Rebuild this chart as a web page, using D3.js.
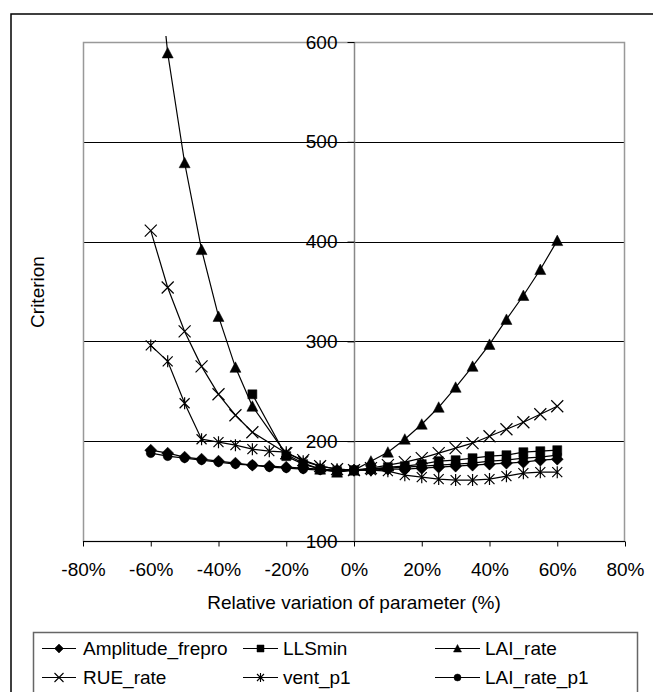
<!DOCTYPE html>
<html><head><meta charset="utf-8">
<script src="https://cdn.jsdelivr.net/npm/d3@7"></script>
<style>
html,body{margin:0;padding:0;background:#fff;}
svg{display:block;font-family:"Liberation Sans",Arial,sans-serif;}
</style></head>
<body>
<svg id="chart" width="653" height="692"></svg>
<script>
// ---- data ----
const pcts = [-0.60,-0.55,-0.50,-0.45,-0.40,-0.35,-0.30,-0.25,-0.20,-0.15,-0.10,-0.05,0,0.05,0.10,0.15,0.20,0.25,0.30,0.35,0.40,0.45,0.50,0.55,0.60];
const amplitudeFrepro = [191,188,184,182,180,178,176,175,174,173,172,171,171,171,172,172,173,174,175,176,177,178,179,181,182];
const llsMin          = [null,null,null,null,null,null,247,null,185,177,172,170,171,172,174,175,177,180,181,183,185,186,189,190,191];
const laiRate         = [755,589,479,392,325,274,235,null,187,178,172,169,171,180,189,202,217,234,254,275,297,322,346,372,401];
const rueRate         = [411,354,310,275,247,226,209,null,188,181,175,172,171,173,176,179,183,188,193,198,205,212,219,227,235];
const ventP1          = [296,280,238,202,199,196,192,190,189,180,175,172,171,171,170,166,164,162,161,161,162,165,168,169,169];
const laiRateP1       = [188,185,183,181,179,177,176,174,173,172,171,170,171,172,173,174,175,176,177,178,180,181,183,184,186];
const seriesNames = ["Amplitude_frepro","LLSmin","LAI_rate","RUE_rate","vent_p1","LAI_rate_p1"];
const seriesValues = [amplitudeFrepro, llsMin, laiRate, rueRate, ventP1, laiRateP1];
const seriesMarkers = ["diamond","square","triangle","x","asterisk","circle"];
const xTicks = [-0.8,-0.6,-0.4,-0.2,0,0.2,0.4,0.6,0.8];
const yTicks = [100,200,300,400,500,600];

// ---- layout ----
const svg = d3.select("#chart");
const L = 83, R = 625, T = 42, B = 541;
const x = d3.scaleLinear().domain([-0.8,0.8]).range([L,R]);
const y = d3.scaleLinear().domain([100,600]).range([B,T]);
const FS = 19;

// outer chart border
svg.append("rect").attr("x",11).attr("y",14).attr("width",700).attr("height",700)
  .attr("fill","#fff").attr("stroke","#000").attr("stroke-width",1.5);

// gridlines
svg.append("g").selectAll("line").data(yTicks.filter(d=>d>100)).join("line")
  .attr("x1",L).attr("x2",R)
  .attr("y1",d=>Math.round(y(d))+0.5).attr("y2",d=>Math.round(y(d))+0.5)
  .attr("stroke","#000").attr("stroke-width",1);

// plot area border (gray)
svg.append("rect").attr("x",L+0.5).attr("y",T+0.5).attr("width",R-L-1).attr("height",B-T)
  .attr("fill","none").attr("stroke","#999").attr("stroke-width",1.5);

// x axis at y=100
const xAxis = d3.axisBottom(x).tickValues(xTicks).tickSize(5).tickPadding(16)
  .tickFormat(d3.format(".0%"));
const gx = svg.append("g").attr("transform",`translate(0,${Math.round(y(100))+0.5})`).call(xAxis);
gx.select(".domain").attr("stroke","#000").attr("d",`M${L},0H${R}`);
gx.selectAll(".tick line").attr("stroke","#000");
gx.selectAll(".tick text").attr("font-size",FS).attr("fill","#000")
  .attr("font-family","Liberation Sans, Arial, sans-serif")
  .text(d=>d3.format(".0%")(d).replace("−","-"));

// y axis at x=0
const yAxis = d3.axisLeft(y).tickValues(yTicks).tickSize(7).tickPadding(10);
const gy = svg.append("g").attr("transform",`translate(${Math.round(x(0))+0.5},0)`).call(yAxis);
gy.select(".domain").attr("stroke","#888").attr("stroke-width",1.5).attr("d",`M0,${T}V${B}`);
gy.selectAll(".tick line").attr("stroke","#000");
gy.selectAll(".tick text").attr("font-size",FS).attr("fill","#000")
  .attr("font-family","Liberation Sans, Arial, sans-serif");

// axis titles
svg.append("text").attr("x",x(0)).attr("y",609).attr("text-anchor","middle")
  .attr("font-size",FS).text("Relative variation of parameter (%)");
svg.append("text").attr("transform",`translate(44,292) rotate(-90)`).attr("text-anchor","middle")
  .attr("font-size",FS).text("Criterion");

// markers
function markerPath(type, s){
  const h = s/2;
  switch(type){
    case "diamond": return `M0,${-h-1}L${h+1},0L0,${h+1}L${-h-1},0Z`;
    case "square": return `M${-h},${-h}H${h}V${h}H${-h}Z`;
    case "triangle": return `M0,${-h-0.5}L${h+0.5},${h}L${-h-0.5},${h}Z`;
    case "circle": return d3.symbol(d3.symbolCircle, Math.PI*h*h)();
    case "x": return `M${-h-1},${-h-1}L${h+1},${h+1}M${-h-1},${h+1}L${h+1},${-h-1}`;
    case "asterisk": return `M${-h},${-h}L${h},${h}M${-h},${h}L${h},${-h}M0,${-h-1}V${h+1}`;
  }
}
const filled = t => !(t==="x"||t==="asterisk");

svg.append("defs").append("clipPath").attr("id","clip")
  .append("rect").attr("x",L).attr("y",T-6).attr("width",R-L).attr("height",B-T+6);

const plot = svg.append("g").attr("clip-path","url(#clip)");
const line = d3.line().x(d=>x(d.p)).y(d=>y(d.v));

seriesValues.forEach((vals,i)=>{
  const pts = pcts.map((p,j)=>({p, v: vals[j]})).filter(d=>d.v!==null);
  plot.append("path").datum(pts).attr("d",line)
    .attr("fill","none").attr("stroke","#000").attr("stroke-width",1.2);
});
seriesValues.forEach((vals,i)=>{
  const pts = pcts.map((p,j)=>({p, v: vals[j]})).filter(d=>d.v!==null);
  const t = seriesMarkers[i];
  plot.append("g").selectAll("path").data(pts).join("path")
    .attr("transform",d=>`translate(${x(d.p)},${y(d.v)})`)
    .attr("d",markerPath(t, t==="circle"?9:(t==="square"?9:10)))
    .attr("fill",filled(t)?"#000":"none")
    .attr("stroke","#000").attr("stroke-width",filled(t)?0.5:1.2);
});

// legend
svg.append("rect").attr("x",33.5).attr("y",632.5).attr("width",604).attr("height",100)
  .attr("fill","#fff").attr("stroke","#666").attr("stroke-width",1.5);
const legCols = [{x0:42,x1:76,tx:83},{x0:243,x1:278,tx:283},{x0:435,x1:480,tx:485}];
const legRows = [648,677];
seriesNames.forEach((name,i)=>{
  const c = legCols[i%3], r = legRows[Math.floor(i/3)];
  const g = svg.append("g");
  g.append("line").attr("x1",c.x0).attr("x2",c.x1).attr("y1",r+0.5).attr("y2",r+0.5)
    .attr("stroke","#000").attr("stroke-width",1.2);
  const t = seriesMarkers[i];
  g.append("path").attr("transform",`translate(${(c.x0+c.x1)/2},${r+0.5})`)
    .attr("d",markerPath(t,7))
    .attr("fill",filled(t)?"#000":"none").attr("stroke","#000").attr("stroke-width",filled(t)?0.5:1.1);
  g.append("text").attr("x",c.tx).attr("y",r).attr("dy","0.35em")
    .attr("font-size",FS).text(name);
});
</script>
</body></html>
